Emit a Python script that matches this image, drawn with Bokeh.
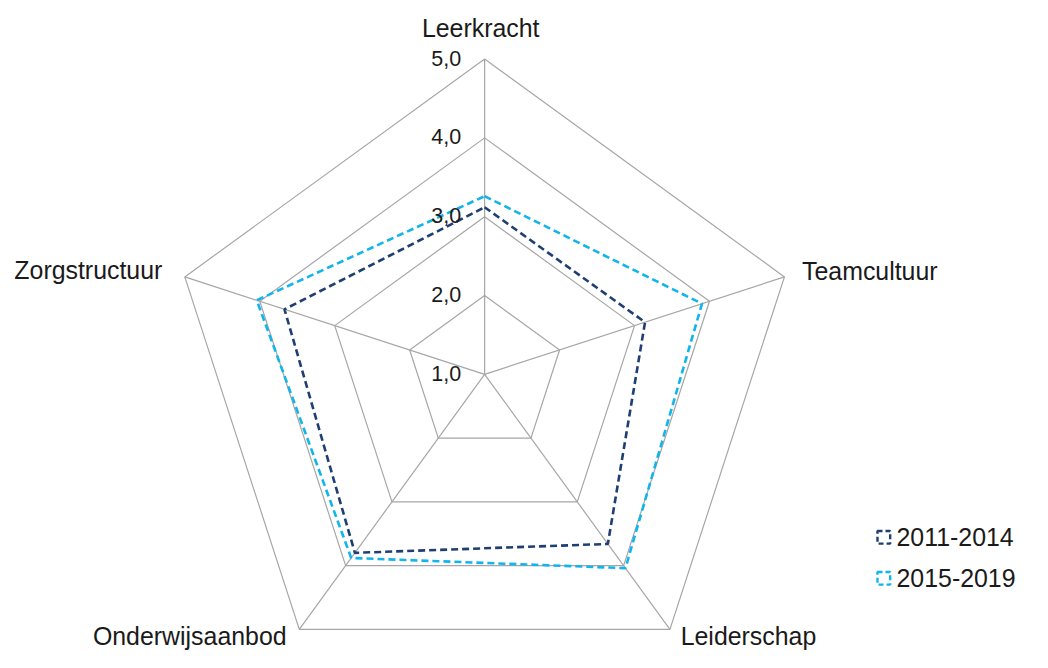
import math
from bokeh.plotting import figure
from bokeh.models import Range1d
from bokeh.core.properties import value
from bokeh.embed import file_html
from bokeh.resources import INLINE

# ---- data ----
categories = ["Leerkracht", "Teamcultuur", "Leiderschap", "Onderwijsaanbod", "Zorgstructuur"]
series_names = ["2011-2014", "2015-2019"]
values_2011_2014 = [3.12, 3.14, 3.66, 3.80, 3.67]
values_2015_2019 = [3.26, 3.90, 4.04, 3.88, 4.04]
tick_values = [1.0, 2.0, 3.0, 4.0, 5.0]
tick_labels = ["1,0", "2,0", "3,0", "4,0", "5,0"]
series_colors = ["#1F3F73", "#12B4EC"]

# ---- layout (reference-pixel units, scaled to the figure) ----
W, H = 1032, 652
REF_W, REF_H = 1048, 668
S = H / REF_H              # uniform scale from reference px to figure px
CX, CY = 496, 383          # chart centre in reference px
UNIT = 80.75               # reference px per 1.0 of value
VMIN = 1.0
FONT = value("Liberation Sans")

def fs(px):
    return f"{px * S:.1f}px"

p = figure(width=W, height=H, output_backend="svg", toolbar_location=None,
           x_range=Range1d(-CX, W / S - CX), y_range=Range1d(CY - H / S, CY),
           min_border=0, outline_line_color=None)
p.axis.visible = False
p.grid.visible = False
p.background_fill_color = "white"
p.border_fill_color = "white"

n = len(categories)
angles = [math.pi / 2 - 2 * math.pi * i / n for i in range(n)]

def polar(vals):
    xs = [(v - VMIN) * UNIT * math.cos(a) for v, a in zip(vals, angles)]
    ys = [(v - VMIN) * UNIT * math.sin(a) for v, a in zip(vals, angles)]
    return xs + xs[:1], ys + ys[:1]

GRID = "#A6A6A6"
# grid rings
for t in tick_values[1:]:
    xs, ys = polar([t] * n)
    p.line(xs, ys, line_color=GRID, line_width=1.2)
# spokes
vmax = tick_values[-1]
R = (vmax - VMIN) * UNIT
for a in angles:
    p.line([0, R * math.cos(a)], [0, R * math.sin(a)], line_color=GRID, line_width=1.2)

# series
for vals, col in zip([values_2011_2014, values_2015_2019], series_colors):
    xs, ys = polar(vals)
    p.line(xs, ys, line_color=col, line_width=2.6, line_dash="7 4")

# tick labels
p.text(x=[472 - CX] * len(tick_values), y=[(t - VMIN) * UNIT + 1 for t in tick_values],
       text=tick_labels, text_font=FONT, text_font_size=fs(22), text_color="#1a1a1a",
       text_align="right", text_baseline="middle")

# category labels
vx = [R * math.cos(a) for a in angles]
vy = [R * math.sin(a) for a in angles]
lab_x = [vx[0] - 4, vx[1] + 18, vx[2] + 11, vx[3] - 13, vx[4] - 23]
lab_y = [CY - 28, vy[1] + 6, CY - 651, CY - 651, vy[4] + 7]
aligns = ["center", "left", "left", "right", "right"]
for i in range(n):
    p.text(x=[lab_x[i]], y=[lab_y[i]], text=[categories[i]], text_font=FONT,
           text_font_size=fs(25.5), text_color="#1a1a1a", text_align=aligns[i],
           text_baseline="middle")

# legend
leg_y = [CY - 550, CY - 592]
p.scatter(x=[905 - CX] * 2, y=leg_y, marker="square", size=13 * S, fill_color=None,
          line_color=series_colors, line_width=2.4, line_dash="5 3")
p.text(x=[918 - CX] * 2, y=leg_y, text=series_names, text_font=FONT, text_font_size=fs(25.5),
       text_color="#1a1a1a", text_align="left", text_baseline="middle")

open("out.html", "w").write(file_html(p, INLINE))
